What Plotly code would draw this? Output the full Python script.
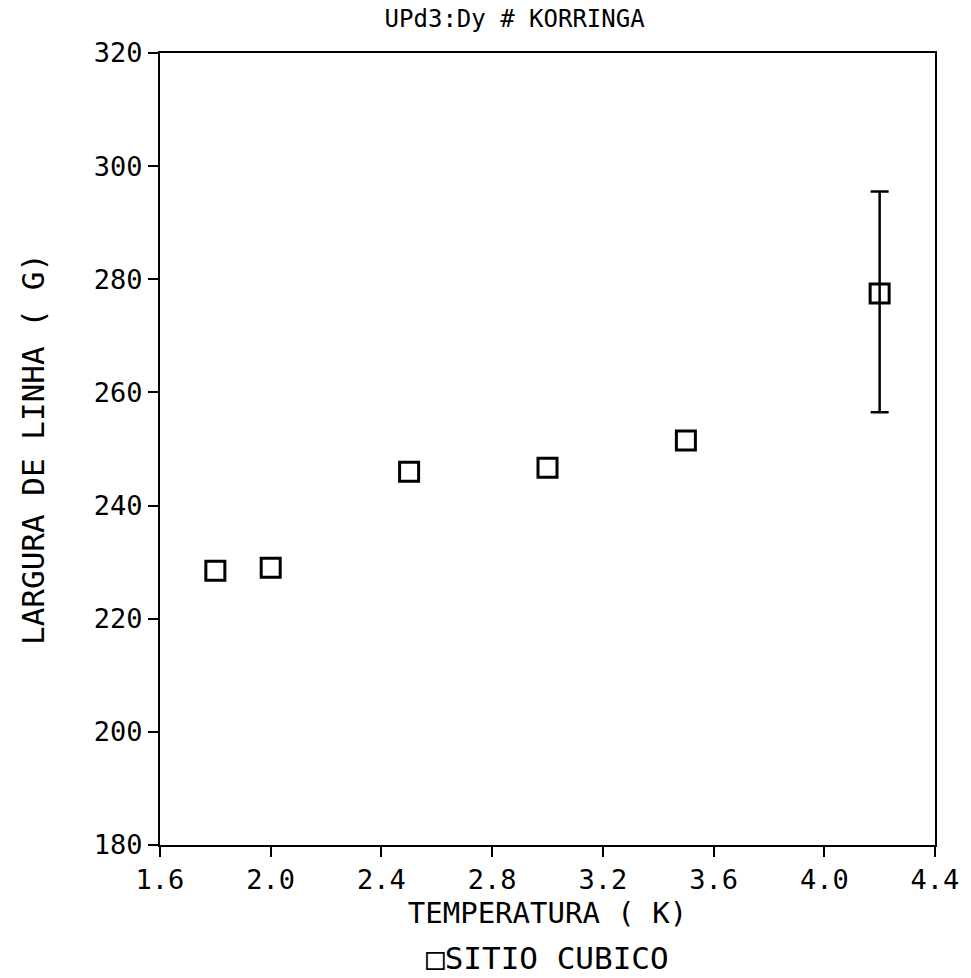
import plotly.graph_objects as go

temperature = [1.8, 2.0, 2.5, 3.0, 3.5, 4.2]
linewidth = [228.5, 229.0, 246.0, 246.7, 251.5, 277.5]
err_x = [4.2]
err_y = [277.5]
err_plus = [18.0]
err_minus = [21.0]
x_ticks = [1.6, 2.0, 2.4, 2.8, 3.2, 3.6, 4.0, 4.4]
y_ticks = [180, 200, 220, 240, 260, 280, 300, 320]

FONT = "DejaVu Sans Mono"

fig = go.Figure()
fig.add_trace(go.Scatter(
    x=err_x, y=err_y, mode="markers",
    marker=dict(size=1, color="rgba(0,0,0,0)"),
    error_y=dict(type="data", symmetric=False, array=err_plus, arrayminus=err_minus,
                 color="black", thickness=2.5, width=9, visible=True),
    showlegend=False, hoverinfo="skip",
))
fig.add_trace(go.Scatter(
    x=temperature, y=linewidth, mode="markers",
    marker=dict(symbol="square-open", size=19, color="black", line=dict(width=3, color="black")),
    showlegend=False,
))

fig.update_layout(
    width=971, height=978,
    margin=dict(l=160, r=33, t=53, b=133),
    paper_bgcolor="white", plot_bgcolor="white",
    font=dict(family=FONT, color="black", size=22),
    title=dict(text="UPd3:Dy # KORRINGA", x=0.53, xanchor="center", y=0.99, yanchor="top",
               font=dict(family=FONT, size=24, color="black")),
    xaxis=dict(range=[1.6, 4.4], tickvals=x_ticks, ticktext=[f"{v:.1f}" for v in x_ticks],
               showgrid=False, zeroline=False, showline=True, linecolor="black", linewidth=2,
               mirror=True, ticks="outside", ticklen=10, tickwidth=2, tickcolor="black",
               tickfont=dict(family=FONT, size=27),
               title=dict(text="TEMPERATURA ( K)", font=dict(family=FONT, size=29), standoff=8)),
    yaxis=dict(range=[180, 320], tickvals=y_ticks, ticktext=[str(v) for v in y_ticks],
               showgrid=False, zeroline=False, showline=True, linecolor="black", linewidth=2,
               mirror=True, ticks="outside", ticklen=10, tickwidth=2, tickcolor="black",
               tickfont=dict(family=FONT, size=27),
               title=dict(text="LARGURA DE LINHA ( G)", font=dict(family=FONT, size=31), standoff=40)),
)

fig.add_annotation(text="□SITIO CUBICO", xref="paper", yref="paper", x=0.5, y=-0.143,
                   xanchor="center", yanchor="middle", showarrow=False,
                   font=dict(family=FONT, size=31, color="black"))

fig.write_html("out.html")
